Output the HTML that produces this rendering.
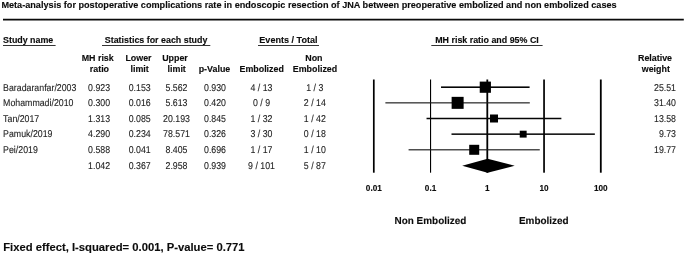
<!DOCTYPE html>
<html lang="en">
<head>
<meta charset="utf-8">
<title>Forest plot</title>
<style>
html,body{margin:0;padding:0;background:#fff}
svg{display:block}
text{font-family:"Liberation Sans",Arial,Helvetica,sans-serif;fill:#1a1a1a}
.b{font-weight:bold;fill:#0c0c0c;stroke:#0c0c0c;stroke-width:0.12px}
.h{font-size:8.9px}
.d{font-size:9.9px;fill:#222;stroke:#222;stroke-width:0.1px;text-rendering:geometricPrecision}
.m{text-anchor:middle}
.e{text-anchor:end}
</style>
</head>
<body>
<svg width="685" height="255" viewBox="0 0 685 255">
<rect width="685" height="255" fill="#fff"/>
<text class="b" x="1.4" y="8" font-size="9.135">Meta-analysis for postoperative complications rate in endoscopic resection of JNA between preoperative embolized and non embolized cases</text>
<rect x="3" y="18.75" width="680.8" height="1.75" fill="#0a0a0a"/>
<text class="b h" x="3" y="43">Study name</text>
<rect x="3" y="45" width="52.6" height="1" fill="#333"/>
<text class="b h m" x="156.1" y="43">Statistics for each study</text>
<rect x="102" y="45" width="108.3" height="1" fill="#333"/>
<text class="b h m" x="288.4" y="43" style="font-size:9.05px">Events / Total</text>
<rect x="258" y="45" width="61" height="1" fill="#333"/>
<text class="b h m" x="487" y="43">MH risk ratio and 95% CI</text>
<rect x="431.3" y="45" width="111.3" height="1" fill="#333"/>
<text class="b h m" x="97.7" y="61">MH risk</text>
<text class="b h m" x="99.4" y="72.2">ratio</text>
<text class="b h m" x="138.5" y="61">Lower</text>
<text class="b h m" x="139.6" y="72.2">limit</text>
<text class="b h m" x="175.0" y="61">Upper</text>
<text class="b h m" x="176.7" y="72.2">limit</text>
<text class="b h m" x="214.5" y="72.2">p-Value</text>
<text class="b h m" x="261.7" y="72.2">Embolized</text>
<text class="b h m" x="313.9" y="61">Non</text>
<text class="b h m" x="315" y="72.2">Embolized</text>
<text class="b h m" x="655" y="61">Relative</text>
<text class="b h m" x="655.8" y="72.2">weight</text>
<text class="d" transform="translate(3.1 91) scale(0.89 1)">Baradaranfar/2003</text>
<text class="d m" transform="translate(99.1 91) scale(0.89 1)">0.923</text>
<text class="d m" transform="translate(139.7 91) scale(0.89 1)">0.153</text>
<text class="d m" transform="translate(176.5 91) scale(0.89 1)">5.562</text>
<text class="d m" transform="translate(215.0 91) scale(0.89 1)">0.930</text>
<text class="d m" transform="translate(261.5 91) scale(0.89 1)">4 / 13</text>
<text class="d m" transform="translate(314.8 91) scale(0.89 1)">1 / 3</text>
<text class="d e" transform="translate(676 91) scale(0.89 1)">25.51</text>
<text class="d" transform="translate(3.1 106) scale(0.89 1)">Mohammadi/2010</text>
<text class="d m" transform="translate(99.1 106) scale(0.89 1)">0.300</text>
<text class="d m" transform="translate(139.7 106) scale(0.89 1)">0.016</text>
<text class="d m" transform="translate(176.5 106) scale(0.89 1)">5.613</text>
<text class="d m" transform="translate(215.0 106) scale(0.89 1)">0.420</text>
<text class="d m" transform="translate(261.5 106) scale(0.89 1)">0 / 9</text>
<text class="d m" transform="translate(314.8 106) scale(0.89 1)">2 / 14</text>
<text class="d e" transform="translate(676 106) scale(0.89 1)">31.40</text>
<text class="d" transform="translate(3.1 122) scale(0.89 1)">Tan/2017</text>
<text class="d m" transform="translate(99.1 122) scale(0.89 1)">1.313</text>
<text class="d m" transform="translate(139.7 122) scale(0.89 1)">0.085</text>
<text class="d m" transform="translate(176.5 122) scale(0.89 1)">20.193</text>
<text class="d m" transform="translate(215.0 122) scale(0.89 1)">0.845</text>
<text class="d m" transform="translate(261.5 122) scale(0.89 1)">1 / 32</text>
<text class="d m" transform="translate(314.8 122) scale(0.89 1)">1 / 42</text>
<text class="d e" transform="translate(676 122) scale(0.89 1)">13.58</text>
<text class="d" transform="translate(3.1 137) scale(0.89 1)">Pamuk/2019</text>
<text class="d m" transform="translate(99.1 137) scale(0.89 1)">4.290</text>
<text class="d m" transform="translate(139.7 137) scale(0.89 1)">0.234</text>
<text class="d m" transform="translate(176.5 137) scale(0.89 1)">78.571</text>
<text class="d m" transform="translate(215.0 137) scale(0.89 1)">0.326</text>
<text class="d m" transform="translate(261.5 137) scale(0.89 1)">3 / 30</text>
<text class="d m" transform="translate(314.8 137) scale(0.89 1)">0 / 18</text>
<text class="d e" transform="translate(676 137) scale(0.89 1)">9.73</text>
<text class="d" transform="translate(3.1 153) scale(0.89 1)">Pei/2019</text>
<text class="d m" transform="translate(99.1 153) scale(0.89 1)">0.588</text>
<text class="d m" transform="translate(139.7 153) scale(0.89 1)">0.041</text>
<text class="d m" transform="translate(176.5 153) scale(0.89 1)">8.405</text>
<text class="d m" transform="translate(215.0 153) scale(0.89 1)">0.696</text>
<text class="d m" transform="translate(261.5 153) scale(0.89 1)">1 / 17</text>
<text class="d m" transform="translate(314.8 153) scale(0.89 1)">1 / 10</text>
<text class="d e" transform="translate(676 153) scale(0.89 1)">19.77</text>
<text class="d m" transform="translate(99.1 169) scale(0.89 1)">1.042</text>
<text class="d m" transform="translate(139.7 169) scale(0.89 1)">0.367</text>
<text class="d m" transform="translate(176.5 169) scale(0.89 1)">2.958</text>
<text class="d m" transform="translate(215.0 169) scale(0.89 1)">0.939</text>
<text class="d m" transform="translate(261.5 169) scale(0.89 1)">9 / 101</text>
<text class="d m" transform="translate(314.8 169) scale(0.89 1)">5 / 87</text>
<rect x="372.95" y="79.5" width="1.7" height="93.2" fill="#000"/>
<rect x="430.00" y="79.5" width="1.1" height="93.2" fill="#000"/>
<rect x="486.40" y="79.5" width="1.8" height="93.2" fill="#000"/>
<rect x="543.20" y="79.5" width="1.7" height="93.2" fill="#000"/>
<rect x="599.90" y="79.5" width="1.8" height="93.2" fill="#000"/>
<rect x="441.03" y="86.40" width="88.56" height="1.6" fill="#050505"/>
<rect x="479.73" y="81.60" width="11.2" height="11.2" fill="#000"/>
<rect x="385.38" y="102.28" width="144.43" height="1.15" fill="#1a1a1a"/>
<rect x="451.63" y="96.85" width="12.0" height="12.0" fill="#000"/>
<rect x="426.54" y="117.75" width="134.83" height="1.5" fill="#050505"/>
<rect x="490.01" y="114.50" width="8.0" height="8.0" fill="#000"/>
<rect x="451.50" y="133.40" width="143.35" height="1.5" fill="#050505"/>
<rect x="519.74" y="130.70" width="6.9" height="6.9" fill="#000"/>
<rect x="408.58" y="149.23" width="131.19" height="1.15" fill="#1a1a1a"/>
<rect x="469.21" y="144.80" width="10.0" height="10.0" fill="#000"/>
<polygon points="462.2,165.7 487.6,158.70 514.7,165.7 487.6,172.70" fill="#000"/>
<text class="b m" x="373.80" y="190.8" font-size="8.2">0.01</text>
<text class="b m" x="430.55" y="190.8" font-size="8.2">0.1</text>
<text class="b m" x="487.30" y="190.8" font-size="8.2">1</text>
<text class="b m" x="544.05" y="190.8" font-size="8.2">10</text>
<text class="b m" x="600.80" y="190.8" font-size="8.2">100</text>
<text class="b m" transform="translate(430.4 224.4) scale(0.975 1)" font-size="10.2" style="text-rendering:geometricPrecision">Non Embolized</text>
<text class="b m" transform="translate(543.8 224.4) scale(0.975 1)" font-size="10.2" style="text-rendering:geometricPrecision">Embolized</text>
<text class="b" x="3.2" y="250.9" font-size="11.25">Fixed effect, I-squared= 0.001, P-value= 0.771</text>
</svg>
</body>
</html>
